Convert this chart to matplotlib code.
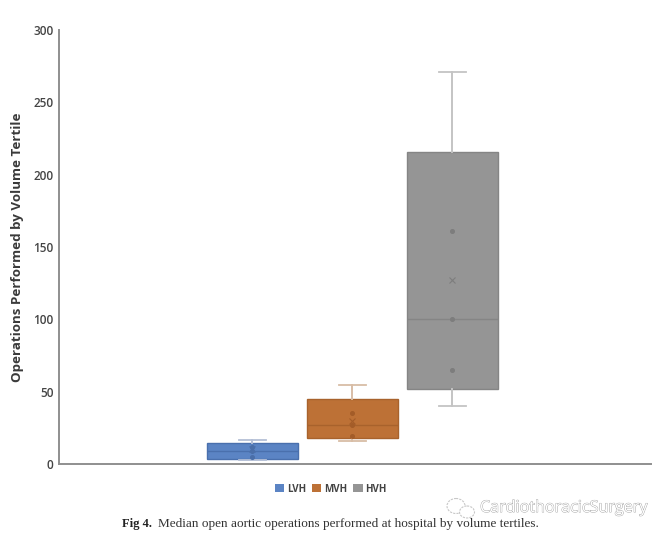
import matplotlib.pyplot as plt
from matplotlib.patches import Patch, Ellipse
import matplotlib.patheffects as pe

groups = ["LVH", "MVH", "HVH"]
colors = ["#5b84c4", "#bd7136", "#959595"]
edge_colors = ["#4a70ad", "#a8622c", "#858585"]
whisker_colors = ["#b4bfd6", "#d8bda6", "#c4c4c4"]
dot_colors = ["#4a6ea8", "#a35c28", "#7d7d7d"]

whisker_low = [3, 16, 40]
q1 = [3.5, 18, 52]
median = [9, 27, 100]
q3 = [14.5, 45, 216]
whisker_high = [16.5, 54.5, 271]
means = [10.5, 30, 127]
inner_points = [[5, 9, 12], [19.5, 27, 35.5], [65, 100, 161]]

yticks = [0, 50, 100, 150, 200, 250, 300]

fig = plt.figure(figsize=(6.69, 5.39), dpi=100)
ax = fig.add_axes([59 / 669, 75 / 539, 592 / 669, 434 / 539])

positions = [1, 2, 3]
for i, pos in enumerate(positions):
    stats = [{
        "whislo": whisker_low[i], "q1": q1[i], "med": median[i],
        "q3": q3[i], "whishi": whisker_high[i], "fliers": [],
    }]
    ax.bxp(stats, positions=[pos], widths=0.91, capwidths=0.27,
           patch_artist=True, showfliers=False, manage_ticks=False,
           boxprops=dict(facecolor=colors[i], edgecolor=edge_colors[i], linewidth=1),
           medianprops=dict(color=edge_colors[i], linewidth=1),
           whiskerprops=dict(color=whisker_colors[i], linewidth=1.4),
           capprops=dict(color=whisker_colors[i], linewidth=1.3))
    ax.plot([pos] * 3, inner_points[i], "o", ms=2.6, color=dot_colors[i], zorder=5)
    ax.plot([pos], [means[i]], "x", ms=4.5, mew=0.8, color=dot_colors[i], zorder=5)

ax.set_xlim(-0.93, 4.99)
ax.set_ylim(0, 300)
ax.set_xticks([])
ax.set_yticks(yticks)
ax.tick_params(axis="y", length=0, pad=4, labelsize=8.5, labelcolor="#444444")
for lab in ax.get_yticklabels():
    lab.set_fontfamily("Open Sans")
    lab.set_fontweight("semibold")

for s in ("top", "right"):
    ax.spines[s].set_visible(False)
for s in ("left", "bottom"):
    ax.spines[s].set_color("#8f8f8f")
    ax.spines[s].set_linewidth(1.4)

fig.text(18 / 669, 1 - 247 / 539, "Operations Performed by Volume Tertile", rotation=90,
         ha="center", va="center", fontsize=9.6, fontfamily="Open Sans",
         fontweight="bold", color="#3a3a3a")

handles = [Patch(facecolor=c, edgecolor="none", label=g) for c, g in zip(colors, groups)]
fig.legend(handles=handles, loc="center", bbox_to_anchor=(331 / 669, 1 - 489 / 539),
           ncol=3, frameon=False, handlelength=0.95, handleheight=0.9,
           handletextpad=0.3, columnspacing=0.6,
           prop={"family": "Open Sans", "weight": "bold", "size": 7},
           labelcolor="#444444")

# caption under the figure
fig.text(122 / 669, 1 - 524 / 539, "Fig 4.", ha="left", va="center", fontsize=9,
         fontfamily="Liberation Serif", fontweight="bold", color="#222222")
fig.text(158 / 669, 1 - 524 / 539, "Median open aortic operations performed at hospital by volume tertiles.",
         ha="left", va="center", fontsize=9.5, fontfamily="Liberation Serif", color="#333333")

# watermark
fig.text(480 / 669, 1 - 508 / 539, "CardiothoracicSurgery", ha="left", va="center", fontsize=11.6,
         fontfamily="Open Sans", color="#ffffff",
         path_effects=[pe.withStroke(linewidth=0.6, foreground="#a0a0a0")])
overlay = fig.add_axes([0, 0, 1, 1], facecolor="none")
overlay.set_xlim(0, 669)
overlay.set_ylim(539, 0)
overlay.axis("off")
overlay.add_patch(Ellipse((456, 506), 18, 15, fc="none", ec="#c8c8c8", lw=0.8, ls=(0, (2, 1))))
overlay.add_patch(Ellipse((467, 512), 15, 12, fc="white", ec="#c8c8c8", lw=0.8, ls=(0, (2, 1))))

fig.savefig("out.png", dpi=100)
